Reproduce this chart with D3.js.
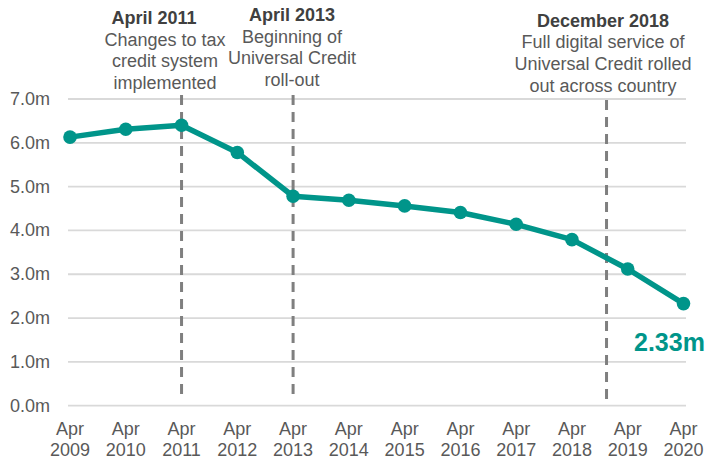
<!DOCTYPE html>
<html><head><meta charset="utf-8">
<script src="https://cdn.jsdelivr.net/npm/d3@7"></script>
<style>body{margin:0;background:#fff}svg{display:block}text{font-family:"Liberation Sans",Arial,sans-serif}</style>
</head><body><div id="chart"></div>
<script>
const years = [2009,2010,2011,2012,2013,2014,2015,2016,2017,2018,2019,2020];
const values = [6.13,6.31,6.40,5.78,4.78,4.69,4.56,4.41,4.14,3.79,3.12,2.33];
const yTicks = [0,1,2,3,4,5,6,7];
const eventPos = [2011, 2013, 2018.62];
const eventTitles = ["April 2011","April 2013","December 2018"];
const eventLines = [["Changes to tax","credit system","implemented"],["Beginning of","Universal Credit","roll-out"],["Full digital service of","Universal Credit rolled","out across country"]];
const endLabel = "2.33m";

const W=706,H=459;
const svg=d3.select("#chart").append("svg").attr("width",W).attr("height",H);
const x=d3.scaleLinear().domain([2009,2020]).range([70,683.5]);
const y=d3.scaleLinear().domain([0,7]).range([405.7,99]);
const grey="#595959", teal="#00958a";

// gridlines
svg.append("g").selectAll("line").data(yTicks).join("line")
 .attr("x1",68).attr("x2",686).attr("y1",d=>y(d)).attr("y2",d=>y(d))
 .attr("stroke","#d9d9d9").attr("stroke-width",1.8);
// y labels
svg.append("g").selectAll("text").data(yTicks).join("text")
 .attr("x",50).attr("y",d=>y(d)+6).attr("text-anchor","end")
 .attr("font-size",18).attr("fill",grey).text(d=>d.toFixed(1)+"m");
// x labels
const xl=svg.append("g").selectAll("text").data(years).join("text")
 .attr("text-anchor","middle").attr("font-size",18).attr("fill",grey);
xl.append("tspan").attr("x",d=>x(d)).attr("y",435).text("Apr");
xl.append("tspan").attr("x",d=>x(d)).attr("y",456).text(d=>d);

// event dashed lines
const evTop=[95,95,100], evBot=[400,400,405];
svg.append("g").selectAll("line").data(eventPos).join("line")
 .attr("x1",d=>x(d)).attr("x2",d=>x(d)).attr("y1",(d,i)=>evTop[i]).attr("y2",(d,i)=>evBot[i])
 .attr("stroke","#7f7f7f").attr("stroke-width",3).attr("stroke-dasharray","10,7");

// annotations
const titleX=[154,292,603], bodyX=[165,292,603], baseY=[24,21,26.5];
eventTitles.forEach((t,i)=>{
 svg.append("text").attr("x",titleX[i]).attr("y",baseY[i]).attr("text-anchor","middle")
  .attr("font-size",18).attr("font-weight","bold").attr("fill","#404040").text(t);
 eventLines[i].forEach((l,j)=>{
  svg.append("text").attr("x",bodyX[i]).attr("y",baseY[i]+21.7*(j+1)).attr("text-anchor","middle")
   .attr("font-size",18).attr("fill",grey).text(l);
 });
});

// line
const data=years.map((yr,i)=>({yr,v:values[i]}));
svg.append("path").datum(data).attr("fill","none").attr("stroke",teal).attr("stroke-width",5.5)
 .attr("stroke-linejoin","round").attr("d",d3.line().x(d=>x(d.yr)).y(d=>y(d.v)));
svg.append("g").selectAll("circle").data(data).join("circle")
 .attr("cx",d=>x(d.yr)).attr("cy",d=>y(d.v)).attr("r",6.8).attr("fill",teal);

svg.append("text").attr("x",634).attr("y",351).attr("font-size",25).attr("font-weight","bold")
 .attr("fill",teal).text(endLabel);
</script></body></html>
